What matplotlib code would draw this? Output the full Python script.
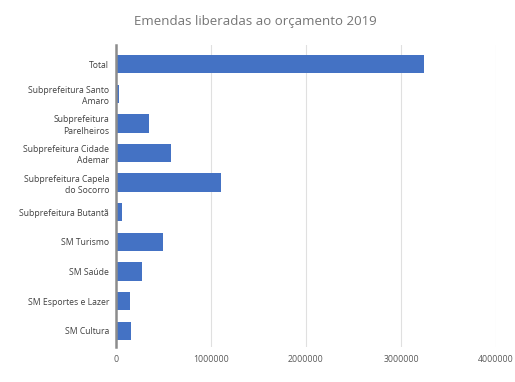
import matplotlib
matplotlib.use("Agg")
import matplotlib.pyplot as plt

categories = ["Total", "Subprefeitura Santo\nAmaro", "Subprefeitura\nParelheiros",
              "Subprefeitura Cidade\nAdemar", "Subprefeitura Capela\ndo Socorro",
              "Subprefeitura Butantã", "SM Turismo", "SM Saúde",
              "SM Esportes e Lazer", "SM Cultura"]
values = [3240000, 30000, 350000, 580000, 1100000, 60000, 490000, 275000, 150000, 160000]
xticks = [0, 1000000, 2000000, 3000000, 4000000]

plt.rcParams['font.family'] = ['Open Sans', 'DejaVu Sans']
fig = plt.figure(figsize=(5.15, 3.82), dpi=100)
ax = fig.add_axes([116/515, 1-347/382, (496-116)/515, (347-45)/382])

ypos = list(range(len(categories)))
ax.barh(ypos, values, height=0.62, color="#4472C4", zorder=3)
ax.set_yticks(ypos)
ax.set_yticklabels(categories, fontsize=6.2, color="#404040", linespacing=1.3)
ax.set_ylim(len(categories)-0.45, -0.65)
ax.set_xlim(0, 4000000)
ax.set_xticks(xticks)
ax.set_xticklabels([str(v) for v in xticks], fontsize=6.3, color="#595959")
ax.tick_params(axis='both', length=0, pad=6)
ax.tick_params(axis='y', pad=5)
ax.grid(axis='x', color="#E0E0E0", linewidth=0.8, zorder=0)
for s in ["top", "right", "bottom"]:
    ax.spines[s].set_visible(False)
ax.spines["left"].set_color("#8C8C8C")
ax.spines["left"].set_linewidth(1.8)
ax.spines["left"].set_zorder(4)
fig.text(255/515, 1-22/382, "Emendas liberadas ao orçamento 2019", ha="center", va="center",
         fontsize=9.5, color="#757575")
fig.savefig("out.png", dpi=100, facecolor="white")
